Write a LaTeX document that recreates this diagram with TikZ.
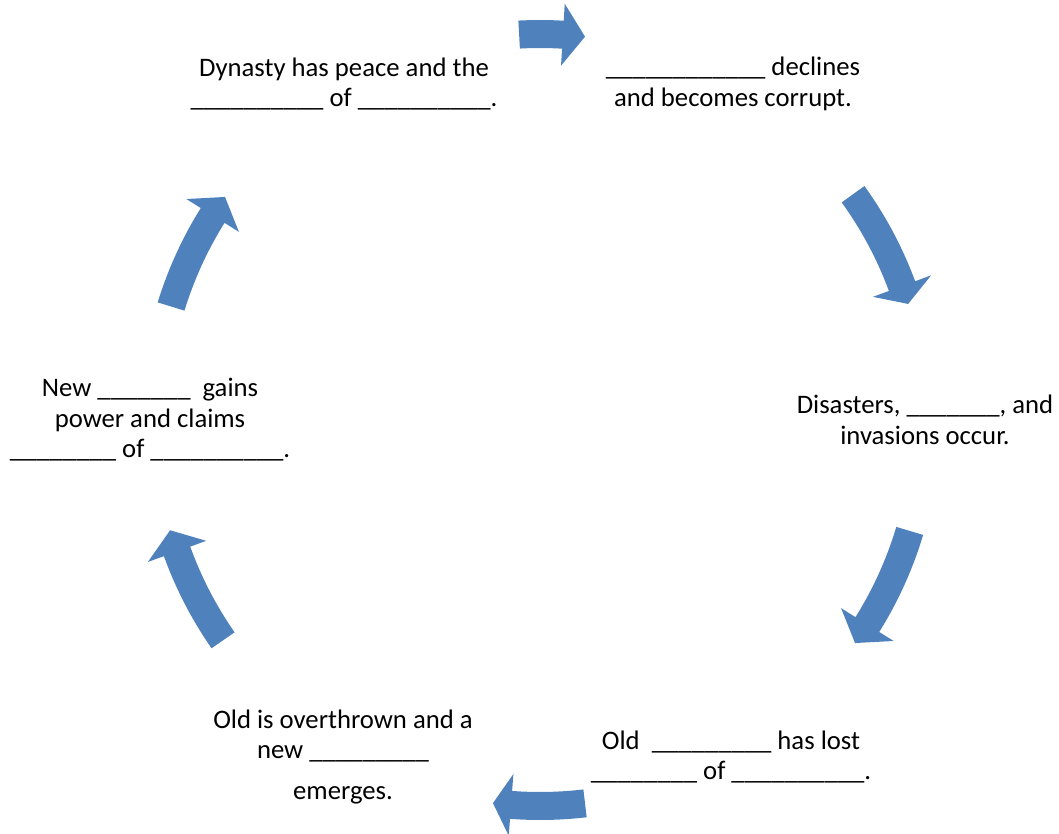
\documentclass[tikz,border=0pt]{standalone}
\usepackage{fontspec}
\setmainfont{Carlito}
\usetikzlibrary{calc}
\definecolor{arrowblue}{HTML}{4F81BD}
\newcommand\blanks[1]{\foreach\k in {1,...,#1}{\_}}
\tikzset{
  lbl/.style={align=center, font=\fontsize{26.7}{30.5}\selectfont, inner sep=0pt, text=black},
  cycarrow/.style={fill=arrowblue, draw=none}
}
% #1 tail angle, #2 head base angle, #3 tip angle
\newcommand\cycarr[3]{%
  \fill[cycarrow] ($(c)+(#1:400)$) arc[start angle=#1, end angle=#2, radius=400]
    -- ($(c)+(#2:417)$) -- ($(c)+(#3:386)$) -- ($(c)+(#2:355)$) -- ($(c)+(#2:372)$)
    arc[start angle=#2, end angle=#1, radius=372] -- cycle;}
\begin{document}
\begin{tikzpicture}[x=1pt,y=1pt]
\useasboundingbox (0,0) rectangle (1059,-834);
\coordinate (c) at (540,-420);
% arrows
\cycarr{93.1}{86.6}{83.3}
\cycarr{35.8}{20.3}{17.5}
\cycarr{-16.7}{-32.0}{-35.3}
\cycarr{-83.3}{-94.3}{-97.0}
\cycarr{214.8}{199.9}{196.6}
\cycarr{162.9}{148.0}{144.7}
% texts
\node[lbl] (t1) at (344,-84) {Dynasty has peace and the\\\blanks{10} of \blanks{10}.};
\node[lbl] (t2) at (733,-84) {\blanks{12} declines\\and becomes corrupt.};
\node[lbl] (t3) at (925,-420) {Disasters, \blanks{7}, and\\invasions occur.};
\node[lbl] (t4) at (731,-757) {Old\ \ \blanks{9} has lost\\\blanks{8} of \blanks{10}.};
\node[lbl] (t5) at (343,-757) {Old is overthrown and a\\new \blanks{9}\\[10pt]emerges.};
\node[lbl] (t6) at (150,-420) {New \blanks{7}\ \ gains\\power and claims\\\blanks{8} of \blanks{10}.};
\end{tikzpicture}
\end{document}
